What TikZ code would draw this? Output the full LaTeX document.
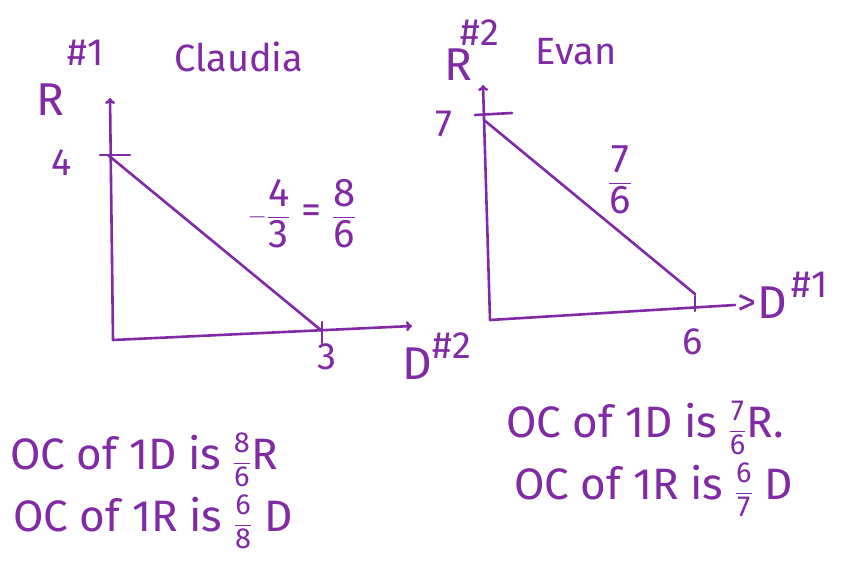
\documentclass[tikz,border=0pt]{standalone}
\usepackage{amsmath}
\usepackage{fontspec}
\setmainfont{Fira Sans}
\usetikzlibrary{arrows.meta}
\definecolor{ink}{RGB}{128,42,165}
\newcommand{\hf}[2]{$\dfrac{\text{#1}}{\text{#2}}$}
\newcommand{\sfr}[2]{{\fontsize{29}{31}\selectfont\hf{#1}{#2}}}
\tikzset{
  ink/.style={draw=ink, line width=2.6pt, line cap=round, line join=round},
  axis/.style={ink, -{To[length=6pt,width=10pt]}},
  lbl/.style={text=ink, inner sep=0pt, font=\fontsize{38}{42}\selectfont},
  big/.style={lbl, font=\fontsize{46}{50}\selectfont},
  frac/.style={lbl, font=\fontsize{40}{44}\selectfont},
  line/.style={lbl, font=\fontsize{44}{48}\selectfont},
}
\begin{document}
\begin{tikzpicture}[x=1pt,y=-1pt]
\useasboundingbox (0,0) rectangle (841,581);
\fill[white] (0,0) rectangle (841,581);

% ---------- Left graph (Claudia) ----------
\coordinate (LO) at (113,340);
\coordinate (LYt) at (110,98);
\coordinate (LXr) at (412,326);
\coordinate (L4) at (108,155);
\coordinate (L3) at (322,331);
\draw[axis] (LO) -- (LYt);
\draw[axis] (LO) -- (LXr);
\draw[ink] (100,155) -- (130,155);
\draw[ink] (322,322) -- (322,343);
\draw[ink] (L4) -- (L3);
\node[big] (lR) at (50,100) {R};
\node[lbl] (lR1) at (86,53) {\#1};
\node[lbl] (claudia) at (239,57) {Claudia};
\node[lbl] (l4) at (62,163) {4};
\node[lbl] (l3) at (327,357) {3};
\node[big] (lD) at (417,364) {D};
\node[lbl] (lD2) at (452,346) {\#2};
\node[frac] (lslope) at (302,214) {$-$\hf{4}{3} = \hf{8}{6}};

% ---------- Right graph (Evan) ----------
\coordinate (RO) at (490,320);
\coordinate (RYt) at (483,85);
\coordinate (RXr) at (735,305);
\coordinate (R7) at (484,120);
\coordinate (R6) at (695,294);
\draw[axis] (RO) -- (RYt);
\draw[ink] (RO) -- (RXr);
\draw[ink] (475,115) -- (512,113);
\draw[ink] (695,296) -- (695,311);
\draw[ink] (R7) -- (R6);
\node[big] (rR) at (458,65) {R};
\node[lbl] (rR2) at (480,33) {\#2};
\node[lbl] (evan) at (576,52) {Evan};
\node[lbl] (r7) at (444,124) {7};
\node[lbl] (r6) at (693,342) {6};
\node[lbl] (rarr) at (747,305) {>};
\node[big] (rD) at (772,303) {D};
\node[lbl] (rD1) at (810,285) {\#1};
\node[frac] (rslope) at (620,180) {\hf{7}{6}};

% ---------- Bottom texts ----------
\node[line, anchor=west] (t1) at (10,460) {OC of 1D is \sfr{8}{6}R};
\node[line, anchor=west] (t2) at (13,522) {OC of 1R is \sfr{6}{8} D};
\node[line, anchor=west] (t3) at (506,428) {OC of 1D is \sfr{7}{6}R.};
\node[line, anchor=west] (t4) at (514,490) {OC of 1R is \sfr{6}{7} D};
\end{tikzpicture}
\end{document}
